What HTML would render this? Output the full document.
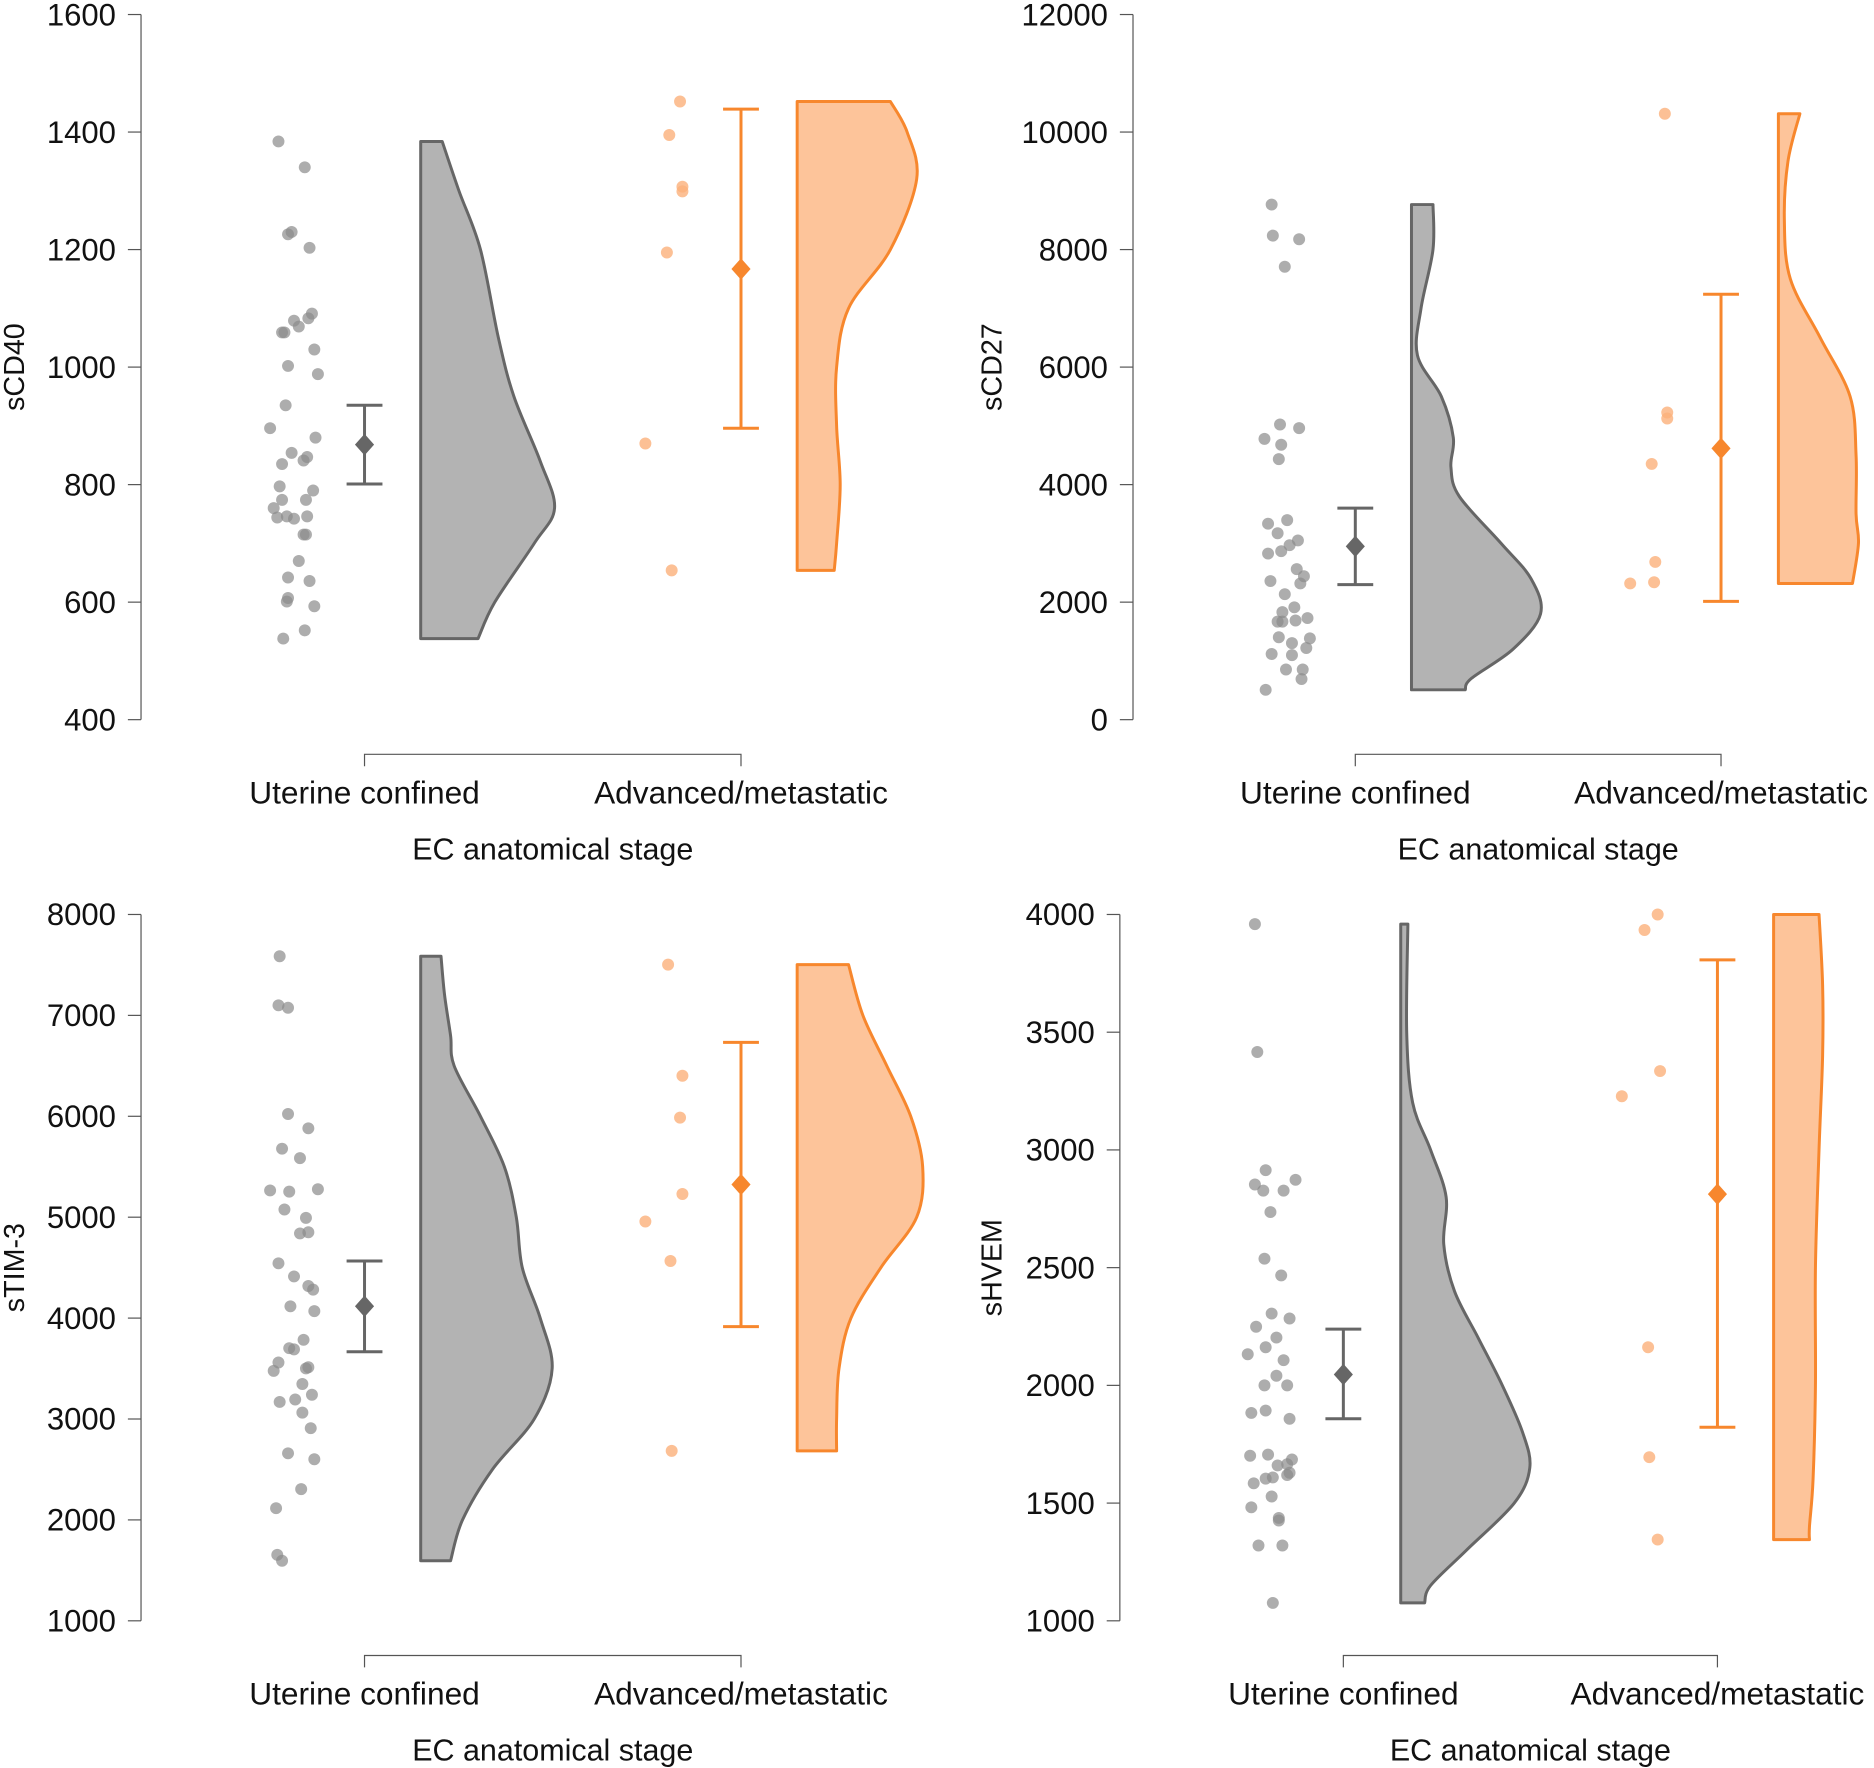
<!DOCTYPE html>
<html><head><meta charset="utf-8">
<style>
html,body{margin:0;padding:0;background:#fff;}
svg{display:block;font-family:"Liberation Sans",Arial,sans-serif;}
</style></head>
<body>
<svg id="chart" width="1874" height="1768" viewBox="0 0 1568 1479" xmlns="http://www.w3.org/2000/svg"></svg>
<script>
// ---------- DATA ----------
// Panel 1: sCD40
const p1Ticks = [400,600,800,1000,1200,1400,1600];
const p1GrayVals = [1384,1340,1226,1230,1203,1079,1069,1059,1059,1083,1091,1030,1002,988,935,896,880,854,847,835,841,797,790,774,774,760,746,742,744,746,715,715,670,642,636,607,601,593,552,538];
const p1OrangeVals = [1452,1395,1307,1299,1195,870,654];
const p1GrayMean = [868,801,935];
const p1OrangeMean = [1167,896,1439];
const p1GrayDensVals = [538,600,700,760,840,950,1050,1200,1300,1384];
const p1GrayDensW = [48,62,95,112,100,78,65,50,32,18];
const p1OrangeDensVals = [654,700,800,900,1000,1100,1200,1320,1400,1452];
const p1OrangeDensW = [31,33,36,33,33,43,78,100,92,78];

// Panel 2: sCD27
const p2Ticks = [0,2000,4000,6000,8000,10000,12000];
const p2GrayVals = [8766,8237,8176,7708,5023,4779,4962,4678,4434,3335,3396,3172,3050,2969,2867,2827,2562,2440,2359,2318,2135,1912,1830,1688,1668,1668,1729,1403,1383,1302,1220,1118,1098,854,854,691,508];
const p2OrangeVals = [10312,5227,5125,4352,2684,2318,2338];
const p2GrayMean = [2949,2298,3600];
const p2OrangeMean = [4617,2013,7240];
const p2GrayDensVals = [508,700,1200,1800,2400,3000,3800,4300,4800,5500,6200,7000,8000,8766];
const p2GrayDensW = [45,50,85,108,100,75,40,33,35,25,5,8,18,18];
const p2OrangeDensVals = [2318,3000,3500,4500,5500,6500,7500,8500,9500,10312];
const p2OrangeDensW = [62,67,65,65,60,35,10,5,8,18];

// Panel 3: sTIM-3
const p3Ticks = [1000,2000,3000,4000,5000,6000,7000,8000];
const p3GrayVals = [7586,7100,7076,6023,5881,5679,5585,5265,5253,5277,5076,4993,4839,4851,4543,4413,4318,4282,4117,4069,3785,3702,3690,3560,3513,3477,3501,3347,3240,3193,3169,3063,2909,2660,2601,2305,2116,1654,1595];
const p3OrangeVals = [7503,6402,5987,5230,4957,4566,2684];
const p3GrayMean = [4117,3667,4566];
const p3OrangeMean = [5324,3915,6733];
const p3GrayDensVals = [1595,2000,2500,3000,3500,4000,4500,5000,5500,6000,6500,6800,7200,7586];
const p3GrayDensW = [25,35,60,95,110,100,85,80,70,50,28,25,20,17];
const p3OrangeDensVals = [2684,3000,3500,4000,4500,5000,5500,6000,6500,7000,7503];
const p3OrangeDensW = [33,33,35,45,70,100,105,95,75,55,43];

// Panel 4: sHVEM
const p4Ticks = [1000,1500,2000,2500,3000,3500,4000];
const p4GrayVals = [3959,3416,2914,2853,2827,2873,2827,2736,2538,2467,2305,2284,2249,2203,2132,2162,2107,2041,2000,2000,1883,1893,1858,1701,1706,1685,1665,1660,1609,1604,1584,1619,1629,1528,1482,1437,1426,1320,1320,1076];
const p4OrangeVals = [4000,3934,3228,3335,2162,1695,1345];
const p4GrayMean = [2046,1858,2239];
const p4OrangeMean = [2812,1822,3807];
const p4GrayDensVals = [1076,1150,1300,1500,1650,1800,2000,2200,2400,2600,2800,3000,3200,3500,3959];
const p4GrayDensW = [20,25,55,95,108,102,85,65,45,36,38,25,10,5,6];
const p4OrangeDensVals = [1345,1400,1600,2000,2500,3000,3400,3700,4000];
const p4OrangeDensW = [30,30,33,35,35,38,41,41,38];

const categories = ["Uterine confined","Advanced/metastatic"];

// ---------- LAYOUT (positions, not data) ----------
const jitterGray1 = [233,255,241,244,259,246,250,236,238,258,261,263,241,266,239,226,264,244,257,236,254,234,262,256,236,229,240,246,232,257,254,256,250,241,259,241,240,263,255,237];
const jitterOr1 = [569,560,571,571,558,540,562];
const jitterGray2 = [1064,1065,1087,1075,1071,1058,1087,1072,1070,1061,1077,1069,1086,1079,1072,1061,1085,1091,1063,1088,1075,1083,1073,1084,1069,1073,1094,1070,1096,1081,1093,1064,1081,1090,1076,1089,1059];
const jitterOr2 = [1393,1395,1395,1382,1385,1364,1384];
const jitterGray3 = [234,233,241,241,258,236,251,226,242,266,238,256,251,258,233,246,258,262,243,263,254,242,246,233,258,229,256,253,261,247,234,253,260,241,263,252,231,232,236];
const jitterOr3 = [559,571,569,571,540,561,562];
const jitterGray4 = [1050,1052,1059,1050,1057,1084,1074,1063,1058,1072,1064,1079,1051,1068,1044,1059,1074,1068,1058,1077,1047,1059,1079,1046,1061,1081,1077,1069,1065,1059,1049,1077,1079,1064,1047,1070,1070,1053,1073,1065];
const jitterOr4 = [1387,1376,1357,1389,1379,1380,1387];

const panels = [
 {name:"scd40", title:"sCD40", ax:118, top:12, bot:602, ticks:p1Ticks, cx:[305,620], vx:[352,667], bracketY:631,
  gray:p1GrayVals, orange:p1OrangeVals, jg:jitterGray1, jo:jitterOr1, gm:p1GrayMean, om:p1OrangeMean,
  gdv:p1GrayDensVals, gdw:p1GrayDensW, odv:p1OrangeDensVals, odw:p1OrangeDensW, titleX:12},
 {name:"scd27", title:"sCD27", ax:948, top:12, bot:602, ticks:p2Ticks, cx:[1134,1440], vx:[1181,1488], bracketY:631,
  gray:p2GrayVals, orange:p2OrangeVals, jg:jitterGray2, jo:jitterOr2, gm:p2GrayMean, om:p2OrangeMean,
  gdv:p2GrayDensVals, gdw:p2GrayDensW, odv:p2OrangeDensVals, odw:p2OrangeDensW, titleX:830},
 {name:"stim3", title:"sTIM-3", ax:118, top:765, bot:1356, ticks:p3Ticks, cx:[305,620], vx:[352,667], bracketY:1385,
  gray:p3GrayVals, orange:p3OrangeVals, jg:jitterGray3, jo:jitterOr3, gm:p3GrayMean, om:p3OrangeMean,
  gdv:p3GrayDensVals, gdw:p3GrayDensW, odv:p3OrangeDensVals, odw:p3OrangeDensW, titleX:12},
 {name:"shvem", title:"sHVEM", ax:937, top:765, bot:1356, ticks:p4Ticks, cx:[1124,1437], vx:[1172,1484], bracketY:1385,
  gray:p4GrayVals, orange:p4OrangeVals, jg:jitterGray4, jo:jitterOr4, gm:p4GrayMean, om:p4OrangeMean,
  gdv:p4GrayDensVals, gdw:p4GrayDensW, odv:p4OrangeDensVals, odw:p4OrangeDensW, titleX:830}
];

const NS="http://www.w3.org/2000/svg";
const svg=document.getElementById('chart');
function mk(tag,attrs,parent){const e=document.createElementNS(NS,tag);for(const k in attrs)e.setAttribute(k,attrs[k]);(parent||svg).appendChild(e);return e;}

function smoothPath(pts){
  let d="";
  for(let i=0;i<pts.length-1;i++){
    const p0=pts[Math.max(0,i-1)],p1=pts[i],p2=pts[i+1],p3=pts[Math.min(pts.length-1,i+2)];
    const c1x=p1[0]+(p2[0]-p0[0])/6,c1y=p1[1]+(p2[1]-p0[1])/6;
    const c2x=p2[0]-(p3[0]-p1[0])/6,c2y=p2[1]-(p3[1]-p1[1])/6;
    d+=` C${c1x},${c1y} ${c2x},${c2y} ${p2[0]},${p2[1]}`;
  }
  return d;
}

panels.forEach(p=>{
  const g=mk('g',{});
  
  
  const tmin=p.ticks[0],tmax=p.ticks[p.ticks.length-1];
  const y=v=>p.bot-(v-tmin)/(tmax-tmin)*(p.bot-p.top);

  const ax=mk('line',{x1:p.ax,y1:p.top,x2:p.ax,y2:p.bot,stroke:'#555','stroke-width':1},g);
  
  
  p.ticks.forEach(t=>{
    const tl=mk('line',{x1:p.ax-11,y1:y(t),x2:p.ax,y2:y(t),stroke:'#555','stroke-width':1},g);
    
    
    const tx=mk('text',{x:p.ax-21,y:y(t)+9,'text-anchor':'end','font-size':26,fill:'#111'},g);
    tx.textContent=t;
    
    
  });
  const midY=(p.top+p.bot)/2;
  const yt=mk('text',{x:p.titleX+8,y:midY,'text-anchor':'middle','font-size':24,fill:'#111',transform:`rotate(-90 ${p.titleX+8} ${midY})`},g);
  yt.textContent=p.title;
  
  

  const br=mk('path',{d:`M${p.cx[0]},${p.bracketY+10} V${p.bracketY} H${p.cx[1]} V${p.bracketY+10}`,fill:'none',stroke:'#555','stroke-width':1},g);
  
  
  categories.forEach((c,i)=>{
    const t=mk('text',{x:p.cx[i],y:p.bracketY+41,'text-anchor':'middle','font-size':26.5,fill:'#111'},g);
    t.textContent=c;
    
    
  });
  const xt=mk('text',{x:(p.cx[0]+p.cx[1])/2,y:p.bracketY+88,'text-anchor':'middle','font-size':25.5,fill:'#111'},g);
  xt.textContent="EC anatomical stage";
  
  

  [[p.gdv,p.gdw,p.vx[0],'#b3b3b3','#666','gray'],[p.odv,p.odw,p.vx[1],'#fdc49a','#f7872d','orange']].forEach(([vals,ws,x0,fill,stroke,nm])=>{
    const pts=vals.map((v,i)=>[x0+ws[i],y(v)]).reverse();
    let d=`M${x0},${y(vals[vals.length-1])} L${pts[0][0]},${pts[0][1]}`+smoothPath(pts)+` L${x0},${y(vals[0])} Z`;
    const vp=mk('path',{d:d,fill:fill,stroke:stroke,'stroke-width':2.5,'stroke-linejoin':'round'},g);
    
    
  });

  p.gray.forEach((v,i)=>{
    const c=mk('circle',{cx:p.jg[i],cy:y(v),r:5,fill:'#8a8a8a','fill-opacity':0.7},g);
    
    
  });
  p.orange.forEach((v,i)=>{
    const c=mk('circle',{cx:p.jo[i],cy:y(v),r:5,fill:'#fbb07a','fill-opacity':0.8},g);
    
    
  });

  [[p.gm,p.cx[0],'#666','uterine-confined'],[p.om,p.cx[1],'#f7872d','advanced-metastatic']].forEach(([m,x,col,nm])=>{
    const e=mk('path',{d:`M${x-15},${y(m[1])} H${x+15} M${x},${y(m[1])} V${y(m[2])} M${x-15},${y(m[2])} H${x+15}`,stroke:col,'stroke-width':2.5,fill:'none'},g);
    
    
    const cy=y(m[0]);
    const dm=mk('polygon',{points:`${x},${cy-9} ${x+8},${cy} ${x},${cy+9} ${x-8},${cy}`,fill:col},g);
    
    
  });
});
</script>
</body></html>
